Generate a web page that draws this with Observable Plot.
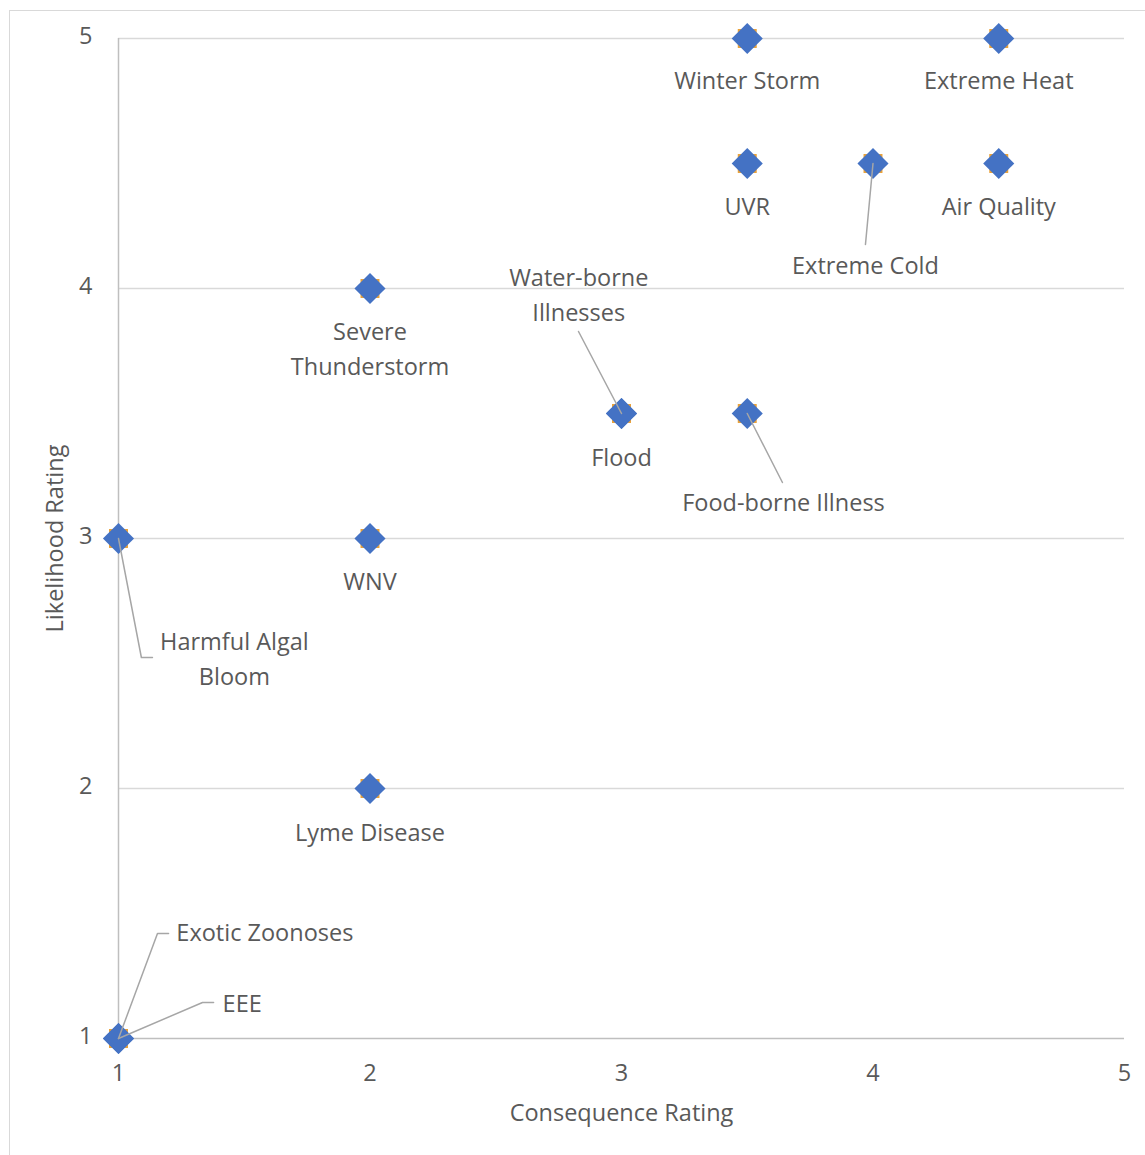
<!DOCTYPE html>
<html>
<head>
<meta charset="utf-8">
<script src="https://cdn.jsdelivr.net/npm/d3@7"></script>
<script src="https://cdn.jsdelivr.net/npm/@observablehq/plot@0.6"></script>
<style>
  html, body { margin: 0; padding: 0; background: #fff; overflow: hidden; }
  #wrap { position: relative; width: 1145px; height: 1155px; }
  #frame { position: absolute; left: 9px; top: 10px; width: 1200px; height: 1200px;
           border: 1.5px solid #d9d9d9; box-sizing: border-box; pointer-events: none; }
  #chart { position: absolute; left: 0; top: 0; }
</style>
</head>
<body>
<div id="wrap"><div id="chart"></div><div id="frame"></div></div>
<script>
// ---- data ----
const hazards = ["Winter Storm", "Extreme Heat", "UVR", "Extreme Cold", "Air Quality",
  "Severe Thunderstorm", "Water-borne Illnesses", "Flood", "Food-borne Illness",
  "Harmful Algal Bloom", "WNV", "Lyme Disease", "Exotic Zoonoses", "EEE"];
const consequence = [3.5, 4.5, 3.5, 4, 4.5, 2, 3, 3, 3.5, 1, 2, 2, 1, 1];
const likelihood  = [5, 5, 4.5, 4.5, 4.5, 4, 3.5, 3.5, 3.5, 3, 3, 2, 1, 1];

// label text and label anchor (data units) as placed on the original chart
const labelText = ["Winter Storm", "Extreme Heat", "UVR", "Extreme Cold", "Air Quality",
  "Severe\nThunderstorm", "Water-borne\nIllnesses", "Flood", "Food-borne Illness",
  "Harmful Algal\nBloom", "WNV", "Lyme Disease", "Exotic Zoonoses", "EEE"];
const labelX = [3.5, 4.5, 3.5, 3.97, 4.5, 2, 2.83, 3, 3.644, 1.461, 2, 2, 1.23, 1.414];
const labelY = [4.832, 4.832, 4.328, 4.092, 4.328, 3.758, 3.974, 3.324, 3.144, 2.518, 2.828, 1.824, 1.424, 1.14];
const labelLeft = [false, false, false, false, false, false, false, false, false, false, false, false, true, true];

// leader lines (data units): hazard, x, y
const leaderHazard = ["Extreme Cold","Extreme Cold",
  "Water-borne Illnesses","Water-borne Illnesses",
  "Food-borne Illness","Food-borne Illness",
  "Harmful Algal Bloom","Harmful Algal Bloom","Harmful Algal Bloom",
  "Exotic Zoonoses","Exotic Zoonoses","Exotic Zoonoses",
  "EEE","EEE","EEE"];
const leaderX = [4, 3.97, 3, 2.829, 3.5, 3.64, 1, 1.091, 1.135, 1, 1.155, 1.199, 1, 1.334, 1.378];
const leaderY = [4.5, 4.176, 3.5, 3.828, 3.5, 3.224, 3, 2.524, 2.524, 1, 1.42, 1.42, 1, 1.144, 1.144];

const ticks = [1, 2, 3, 4, 5];
const xTitle = "Consequence Rating";
const yTitle = "Likelihood Rating";

// ---- tables ----
const points = hazards.map((h, i) => ({h, x: consequence[i], y: likelihood[i]}));
const labels = labelText.map((t, i) => ({t, x: labelX[i], y: labelY[i], left: labelLeft[i]}));
const leaders = leaderHazard.map((h, i) => ({h, x: leaderX[i], y: leaderY[i]}));

const textColor = "#595959";
const font = "'Open Sans', 'Noto Sans', sans-serif";
const fs = 23.5;

const chart = Plot.plot({
  width: 1145,
  height: 1155,
  marginLeft: 118,
  marginRight: 21,
  marginTop: 38,
  marginBottom: 117,
  style: {fontFamily: font, fontSize: fs + "px", color: textColor, background: "transparent"},
  x: {domain: [1, 5]},
  y: {domain: [1, 5]},
  marks: [
    Plot.ruleY(ticks.filter(d => d > 1), {stroke: "#d9d9d9", strokeWidth: 1.5}),
    Plot.ruleY([1], {stroke: "#bfbfbf", strokeWidth: 1.5}),
    Plot.ruleX([1], {y1: 1, y2: 5, stroke: "#bfbfbf", strokeWidth: 1.5}),
    Plot.axisX({ticks, tickSize: 0, tickPadding: 26, tickFormat: d => String(d), fontSize: fs, label: null, fill: textColor}),
    Plot.axisY({ticks, tickSize: 0, tickPadding: 26, tickFormat: d => String(d), fontSize: fs, label: null, fill: textColor, dy: -2}),
    Plot.text([xTitle], {frameAnchor: "bottom", dy: 75, fontSize: fs, fill: textColor, lineAnchor: "middle"}),
    Plot.text([yTitle], {frameAnchor: "left", textAnchor: "middle", dx: -63, rotate: -90, fontSize: fs, fill: textColor, lineAnchor: "middle"}),
    Plot.dot(points, {x: "x", y: "y", symbol: "square", r: 10.7, fill: "#E9A23B"}),
    Plot.dot(points, {x: "x", y: "y", symbol: "diamond2", r: 14, fill: "#4472C4", stroke: "none"}),
    Plot.line(leaders, {x: "x", y: "y", z: "h", stroke: "#a6a6a6", strokeWidth: 1.5}),
    Plot.text(labels.filter(d => !d.left), {x: "x", y: "y", text: "t", textAnchor: "middle", dy: -3, fontSize: fs, fill: textColor, lineAnchor: "middle", lineHeight: 1.49}),
    Plot.text(labels.filter(d => d.left), {x: "x", y: "y", text: "t", textAnchor: "start", dy: -3, fontSize: fs, fill: textColor, lineAnchor: "middle", lineHeight: 1.49})
  ]
});
document.getElementById("chart").appendChild(chart);
</script>
</body>
</html>
